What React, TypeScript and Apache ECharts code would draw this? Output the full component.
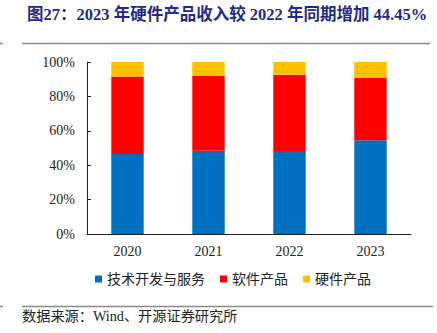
import React, { useEffect, useRef } from "react";
import * as echarts from "echarts";

const categories = ["2020", "2021", "2022", "2023"];
const techService = [46.5, 48.4, 48.3, 54.5];
const software = [45.0, 43.5, 44.3, 36.4];
const hardware = [8.5, 8.1, 7.4, 9.1];
const seriesNames = ["技术开发与服务", "软件产品", "硬件产品"];
const colors = ["#0070c0", "#ff0000", "#ffc000"];

const serif = "'Liberation Serif', 'Times New Roman', 'Noto Sans CJK SC', serif";

export default function App() {
  const ref = useRef<HTMLDivElement>(null);
  useEffect(() => {
    if (!ref.current) return;
    const chart = echarts.init(ref.current, undefined, { renderer: "svg" });
    const data = [techService, software, hardware];
    chart.setOption({
      animation: false,
      backgroundColor: "#ffffff",
      title: {
        text: "图27：2023 年硬件产品收入较 2022 年同期增加 44.45%",
        left: 22,
        top: 1,
        textStyle: { color: "#1f2a8a", fontSize: 16.5, fontWeight: "bold", fontFamily: serif },
      },
      graphic: [
        { type: "line", shape: { x1: 22, y1: 43.5, x2: 430, y2: 43.5 }, style: { stroke: "#8a8a8a", lineWidth: 1.5 } },
        { type: "line", shape: { x1: 0, y1: 43.5, x2: 3, y2: 43.5 }, style: { stroke: "#8a8a8a", lineWidth: 1.5 } },
        { type: "line", shape: { x1: 22, y1: 306.5, x2: 433, y2: 306.5 }, style: { stroke: "#8a8a8a", lineWidth: 1.5 } },
        { type: "line", shape: { x1: 0, y1: 306.5, x2: 3, y2: 306.5 }, style: { stroke: "#8a8a8a", lineWidth: 1.5 } },
        {
          type: "text",
          left: 22,
          top: 309,
          style: { text: "数据来源：Wind、开源证券研究所", fontSize: 14.2, fontFamily: serif, fill: "#222222" },
        },
      ],
      legend: {
        bottom: 42,
        left: 90,
        itemWidth: 7,
        itemHeight: 7,
        itemGap: 15,
        icon: "rect",
        textStyle: { fontSize: 14, fontFamily: serif, color: "#222222" },
        data: seriesNames,
      },
      grid: { left: 87, right: 26, top: 62, bottom: 99 },
      xAxis: {
        type: "category",
        data: categories,
        axisLine: { lineStyle: { color: "#222222", width: 1 } },
        axisTick: { inside: true, length: 4, lineStyle: { color: "#222222" } },
        axisLabel: { color: "#222222", fontSize: 14, fontFamily: serif, margin: 10 },
      },
      yAxis: {
        type: "value",
        min: 0,
        max: 100,
        interval: 20,
        splitLine: { show: false },
        axisLine: { show: true, lineStyle: { color: "#222222", width: 1 } },
        axisTick: { show: true, inside: true, length: 4, lineStyle: { color: "#222222" } },
        axisLabel: { color: "#222222", fontSize: 14, fontFamily: serif, formatter: "{value}%", margin: 12 },
      },
      series: seriesNames.map((name, i) => ({
        name,
        type: "bar",
        stack: "total",
        barWidth: "40%",
        data: data[i],
        itemStyle: { color: colors[i] },
      })),
    });
    return () => chart.dispose();
  }, []);
  return <div ref={ref} style={{ width: 437, height: 333, position: "absolute", left: 0, top: 0 }} />;
}
